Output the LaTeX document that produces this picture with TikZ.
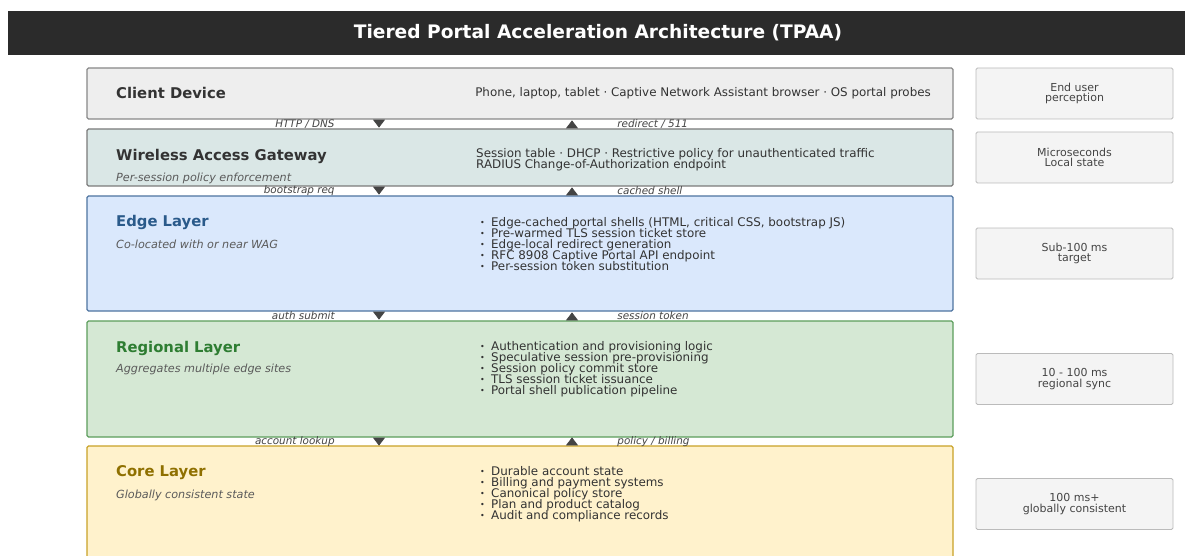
\documentclass[tikz,border=0pt]{standalone}
\usepackage{fontspec}
\setmainfont{DejaVu Sans}
\usetikzlibrary{arrows.meta,positioning}

\definecolor{barbg}{HTML}{2B2B2B}
\definecolor{clientfill}{HTML}{EEEEEE}
\definecolor{clientline}{HTML}{888888}
\definecolor{wagfill}{HTML}{DAE7E6}
\definecolor{wagline}{HTML}{7A7A7A}
\definecolor{edgefill}{HTML}{DAE8FC}
\definecolor{edgeline}{HTML}{4E74A0}
\definecolor{edgetitle}{HTML}{2A5A8A}
\definecolor{regfill}{HTML}{D5E8D4}
\definecolor{regline}{HTML}{5C9E5C}
\definecolor{regtitle}{HTML}{2E7D32}
\definecolor{corefill}{HTML}{FFF2CC}
\definecolor{coreline}{HTML}{C9A227}
\definecolor{coretitle}{HTML}{8F7000}
\definecolor{ratefill}{HTML}{F4F4F4}
\definecolor{rateline}{HTML}{BBBBBB}
\definecolor{ratetext}{HTML}{444444}
\definecolor{subgray}{HTML}{5A5A5A}
\definecolor{bodygray}{HTML}{333333}
\definecolor{arrowgray}{HTML}{444444}

\newcommand\bul{\makebox[11pt][l]{\raisebox{1pt}{\fontsize{8}{8}\selectfont\textbullet}}}
\newcommand\bodyfont{\fontsize{11.9}{11}\selectfont\lineskiplimit=-20pt\relax}

\tikzset{
  layerbox/.style={line width=1.2pt, minimum width=866pt, inner sep=0pt, rounded corners=1.5pt},
  ratebox/.style={draw=rateline, fill=ratefill, line width=0.8pt, minimum width=197pt,
    minimum height=51pt, align=center, text=ratetext, rounded corners=1.5pt,
    font=\fontsize{11}{10.5}\selectfont},
  laytitle/.style={anchor=west, inner sep=0pt, font=\fontsize{14.8}{16}\selectfont\bfseries},
  laysub/.style={anchor=west, inner sep=0pt, text=subgray, font=\fontsize{11.2}{12}\selectfont\itshape},
  laybody/.style={anchor=west, inner sep=0pt, align=left, text=bodygray, font=\bodyfont},
  flowlabel/.style={inner sep=0pt, text=arrowgray, font=\fontsize{10.4}{11}\selectfont\itshape},
  flowdown/.style={draw=arrowgray, fill=arrowgray, line width=0.8pt,
    arrows={Triangle[reversed,length=8pt,width=12pt]-}, shorten >=3pt},
  flowup/.style={draw=arrowgray, fill=arrowgray, line width=0.8pt,
    arrows={-Triangle[reversed,length=8pt,width=12pt]}, shorten <=3pt}
}

\begin{document}
\begin{tikzpicture}[x=1pt,y=-1pt]
  \clip (0,0) rectangle (1185,556);
  \fill[white] (0,0) rectangle (1185,556);

  % title bar
  \node[fill=barbg, minimum width=1190pt, minimum height=44pt, inner sep=0pt, anchor=west] (bar) at (8,33) {};
  \node[text=white, font=\fontsize{18.6}{20}\selectfont\bfseries] (bartitle) at (598,33) {Tiered Portal Acceleration Architecture (TPAA)};

  % layers
  \node[layerbox, draw=clientline, fill=clientfill, minimum height=51pt] (client) at (520,93.5) {};
  \node[layerbox, draw=wagline, fill=wagfill, minimum height=57pt] (wag) at (520,157.5) {};
  \node[layerbox, draw=edgeline, fill=edgefill, minimum height=115pt] (edge) at (520,253.5) {};
  \node[layerbox, draw=regline, fill=regfill, minimum height=116pt] (reg) at (520,379) {};
  \node[layerbox, draw=coreline, fill=corefill, minimum height=124pt] (core) at (520,508) {};

  \node[laytitle, text=bodygray] (clientT) at (116,93) {Client Device};
  \node[laybody, anchor=east] (clientB) at (931,93) {Phone, laptop, tablet · Captive Network Assistant browser · OS portal probes};

  \node[laytitle, text=bodygray] (wagT) at (116,156) {Wireless Access Gateway};
  \node[laysub] (wagS) at (116,178) {Per-session policy enforcement};
  \node[laybody] (wagB) at (476,160) {Session table · DHCP · Restrictive policy for unauthenticated traffic\\
    RADIUS Change-of-Authorization endpoint};

  \node[laytitle, text=edgetitle] (edgeT) at (116,222) {Edge Layer};
  \node[laysub] (edgeS) at (116,244) {Co-located with or near WAG};
  \node[laybody] (edgeB) at (480,244) {\bul Edge-cached portal shells (HTML, critical CSS, bootstrap JS)\\
    \bul Pre-warmed TLS session ticket store\\
    \bul Edge-local redirect generation\\
    \bul RFC 8908 Captive Portal API endpoint\\
    \bul Per-session token substitution};

  \node[laytitle, text=regtitle] (regT) at (116,348) {Regional Layer};
  \node[laysub] (regS) at (116,369) {Aggregates multiple edge sites};
  \node[laybody] (regB) at (480,369) {\bul Authentication and provisioning logic\\
    \bul Speculative session pre-provisioning\\
    \bul Session policy commit store\\
    \bul TLS session ticket issuance\\
    \bul Portal shell publication pipeline};

  \node[laytitle, text=coretitle] (coreT) at (116,473) {Core Layer};
  \node[laysub] (coreS) at (116,495) {Globally consistent state};
  \node[laybody] (coreB) at (480,494) {\bul Durable account state\\
    \bul Billing and payment systems\\
    \bul Canonical policy store\\
    \bul Plan and product catalog\\
    \bul Audit and compliance records};

  % latency notes
  \node[ratebox] (rate1) at (1074.5,93.5) {End user\\perception};
  \node[ratebox] (rate2) at (1074.5,157.5) {Microseconds\\Local state};
  \node[ratebox] (rate3) at (1074.5,253.5) {Sub-100 ms\\target};
  \node[ratebox] (rate4) at (1074.5,379) {10 - 100 ms\\regional sync};
  \node[ratebox] (rate5) at (1074.5,504) {100 ms+\\globally consistent};

  % flows between layers
  \coordinate (dn) at (379,0);
  \coordinate (up) at (572,0);
  \draw[flowdown] (client.south -| dn) -- (wag.north -| dn) node[midway, flowlabel, anchor=east, xshift=-44pt] {HTTP / DNS};
  \draw[flowup] (client.south -| up) -- (wag.north -| up) node[midway, flowlabel, anchor=west, xshift=45pt] {redirect / 511};
  \draw[flowdown] (wag.south -| dn) -- (edge.north -| dn) node[midway, flowlabel, anchor=east, xshift=-44pt] {bootstrap req};
  \draw[flowup] (wag.south -| up) -- (edge.north -| up) node[midway, flowlabel, anchor=west, xshift=45pt] {cached shell};
  \draw[flowdown] (edge.south -| dn) -- (reg.north -| dn) node[midway, flowlabel, anchor=east, xshift=-44pt] {auth submit};
  \draw[flowup] (edge.south -| up) -- (reg.north -| up) node[midway, flowlabel, anchor=west, xshift=45pt] {session token};
  \draw[flowdown] (reg.south -| dn) -- (core.north -| dn) node[midway, flowlabel, anchor=east, xshift=-44pt] {account lookup};
  \draw[flowup] (reg.south -| up) -- (core.north -| up) node[midway, flowlabel, anchor=west, xshift=45pt] {policy / billing};
\end{tikzpicture}
\end{document}
